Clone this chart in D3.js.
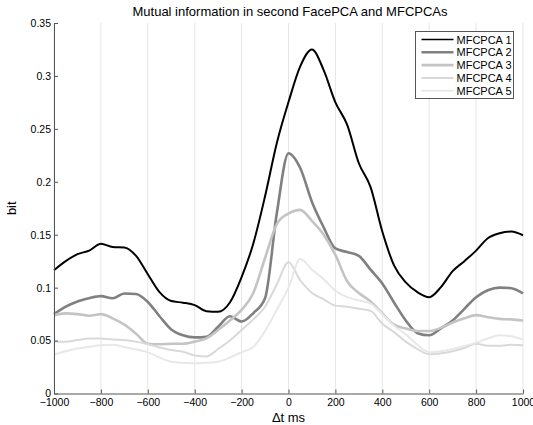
<!DOCTYPE html>
<html>
<head>
<meta charset="utf-8">
<script src="https://cdn.jsdelivr.net/npm/d3@7"></script>
<style>
  body { margin: 0; background: #fff; }
  svg { display: block; font-family: "Liberation Sans", Arial, sans-serif; }
</style>
</head>
<body>
<svg id="chart" width="533" height="425"></svg>
<script>
/// values, one array per curve
var lags = [-1000,-950,-900,-850,-800,-750,-700,-650,-600,-550,-500,-450,-400,-350,-300,-250,-200,-150,-100,-50,
            0,50,100,150,200,250,300,350,400,450,500,550,600,650,700,750,800,850,900,950,1000]

var mi1 = [0.1165,0.125,0.1316,0.135,0.1415,0.1385,0.138,0.130,0.1127,0.0957,0.0873,0.0858,0.0835,0.0778,0.0772,0.086,0.110,0.1417,0.1863,0.2365,
           0.2753,0.309,0.325,0.3055,0.275,0.254,0.2175,0.195,0.153,0.121,0.105,0.0957,0.091,0.1005,0.1156,0.125,0.135,0.1467,0.1514,0.153,0.1495]
var mi2 = [0.075,0.082,0.087,0.090,0.092,0.090,0.0945,0.094,0.0865,0.073,0.0605,0.055,0.053,0.0535,0.063,0.073,0.068,0.076,0.090,0.170,
           0.227,0.213,0.181,0.157,0.137,0.1336,0.130,0.117,0.104,0.086,0.069,0.057,0.055,0.0615,0.069,0.080,0.091,0.0976,0.100,0.0995,0.0945]
var mi3 = [0.074,0.0757,0.075,0.0735,0.075,0.071,0.065,0.0565,0.047,0.0465,0.047,0.047,0.049,0.052,0.060,0.069,0.079,0.095,0.128,0.160,
           0.170,0.1735,0.163,0.150,0.131,0.106,0.095,0.087,0.0757,0.065,0.0615,0.059,0.059,0.062,0.067,0.071,0.074,0.072,0.0705,0.070,0.069]
var mi4 = [0.049,0.049,0.0505,0.052,0.052,0.051,0.0505,0.049,0.0465,0.0435,0.041,0.0394,0.036,0.035,0.042,0.050,0.060,0.070,0.082,0.103,
           0.124,0.107,0.095,0.089,0.083,0.082,0.080,0.078,0.066,0.058,0.049,0.042,0.037,0.038,0.040,0.043,0.047,0.045,0.045,0.046,0.0455]
var mi5 = [0.037,0.040,0.0426,0.044,0.0455,0.046,0.044,0.0415,0.039,0.034,0.030,0.029,0.0285,0.029,0.030,0.034,0.039,0.044,0.059,0.079,
           0.100,0.127,0.117,0.108,0.097,0.091,0.088,0.085,0.075,0.064,0.056,0.046,0.039,0.040,0.042,0.045,0.048,0.052,0.055,0.054,0.051]

var names   = ["MFCPCA 1","MFCPCA 2","MFCPCA 3","MFCPCA 4","MFCPCA 5"]
var xTicks  = [-1000,-800,-600,-400,-200,0,200,400,600,800,1000]
var yTicks  = [0,0.05,0.1,0.15,0.2,0.25,0.3,0.35]
var title   = "Mutual information in second FacePCA and MFCPCAs"

var colors = ["#000000","#808080","#c4c4c4","#d9d9d9","#e8e8e8"]
var widths = [2, 2.6, 2.6, 2, 2]
var legendWidths = [1.4, 2.6, 2.6, 2, 2]

var W = 533, H = 425
var m = {top: 23, right: 10, bottom: 31.5, left: 54}

var svg = d3.select("#chart")

var x = d3.scaleLinear().domain([-1000,1000]).range([m.left, W-m.right])
var y = d3.scaleLinear().domain([0,0.35]).range([H-m.bottom, m.top])

/// vertical grid only, like the original
svg.append("g")
    .selectAll("line")
    .data(xTicks)
    .join("line")
    .attr("x1", d => x(d)).attr("x2", d => x(d))
    .attr("y1", y(0)).attr("y2", y(0.35))
    .attr("stroke", "#e6e6e6")
    .attr("stroke-width", 1)

var line = d3.line()
    .x((d,i) => x(lags[i]))
    .y(d => y(d))
    .curve(d3.curveMonotoneX)

var series = [mi1, mi2, mi3, mi4, mi5]

svg.append("g")
    .selectAll("path")
    .data(series)
    .join("path")
    .attr("d", line)
    .attr("fill", "none")
    .attr("stroke", (d,i) => colors[i])
    .attr("stroke-width", (d,i) => widths[i])
    .attr("stroke-linejoin", "round")

/// axes, ticks pointing inward
svg.append("g")
    .attr("transform", "translate(0," + y(0) + ")")
    .call(d3.axisBottom(x).tickValues(xTicks).tickSizeInner(-4).tickSizeOuter(0).tickPadding(5)
          .tickFormat(d3.format("d")))

svg.append("g")
    .attr("transform", "translate(" + x(-1000) + ",0)")
    .call(d3.axisLeft(y).tickValues(yTicks).tickSizeInner(-4).tickSizeOuter(0).tickPadding(3)
          .tickFormat(d => String(+d.toFixed(2))))

svg.selectAll(".domain, .tick line").attr("stroke", "#555")
svg.selectAll(".tick text").attr("fill", "#000").attr("font-size", "10.5px")
    .attr("font-family", "Liberation Sans, Arial, sans-serif")

/// titles
svg.append("text")
    .attr("x", 290).attr("y", 16)
    .attr("text-anchor", "middle")
    .attr("font-size", "13px")
    .text(title)

svg.append("text")
    .attr("x", x(0)).attr("y", 422)
    .attr("text-anchor", "middle")
    .attr("font-size", "13px")
    .text("\u0394t ms")

svg.append("text")
    .attr("transform", "translate(16," + y(0.175) + ") rotate(-90)")
    .attr("text-anchor", "middle")
    .attr("font-size", "13px")
    .text("bit")

/// legend
var lg = svg.append("g").attr("transform", "translate(415.5,31.5)")
lg.append("rect")
    .attr("width", 98).attr("height", 67)
    .attr("fill", "#fff").attr("stroke", "#555").attr("stroke-width", 1)

var rows = lg.selectAll("g.row")
    .data(names)
    .join("g")
    .attr("class", "row")
    .attr("transform", (d,i) => "translate(0," + (8 + i*12.8) + ")")

rows.append("line")
    .attr("x1", 6).attr("x2", 38)
    .attr("stroke", (d,i) => colors[i])
    .attr("stroke-width", (d,i) => legendWidths[i])

rows.append("text")
    .attr("x", 41).attr("y", 4)
    .attr("font-size", "11px")
    .text(d => d)
</script>
</body>
</html>
